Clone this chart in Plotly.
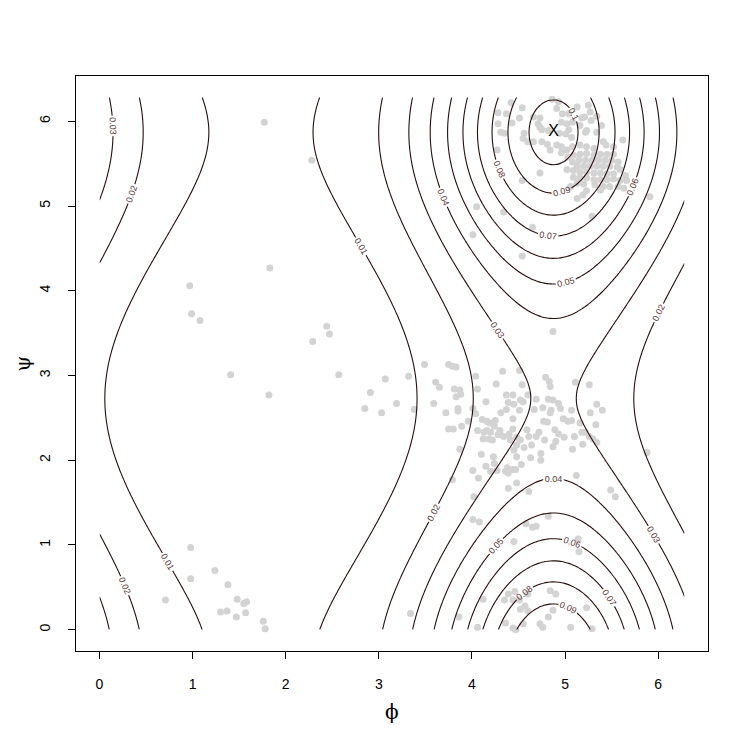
import numpy as np
import plotly.graph_objects as go

# fitted bivariate von Mises (independent product) parameters
mu_phi = 4.876
mu_psi = 5.87
kappa_phi = 1.27
kappa_psi = 0.605
levels = [0.01, 0.02, 0.03, 0.04, 0.05, 0.06, 0.07, 0.08, 0.09, 0.10]

# observed (phi, psi) angles, grouped by region
left_phi = [1.77, 2.28, 1.83, 0.97, 0.99, 1.08, 1.41, 1.82, 2.44, 2.47, 2.29, 2.57,
            0.98, 0.98, 0.71, 1.24, 1.38, 1.48, 1.58, 1.55, 1.30, 1.37, 1.47, 1.57,
            1.76, 1.78, 3.34]
left_psi = [5.99, 5.54, 4.27, 4.06, 3.73, 3.65, 3.01, 2.77, 3.58, 3.49, 3.40, 3.01,
            0.97, 0.60, 0.35, 0.70, 0.53, 0.36, 0.33, 0.31, 0.21, 0.22, 0.15, 0.20,
            0.10, 0.01, 0.19]

mid_phi = [3.07, 2.91, 2.85, 3.03, 3.19, 3.32, 3.38, 3.49, 3.75, 3.79, 3.83, 3.61,
           3.65, 3.59, 3.72, 3.81, 3.87, 3.83, 3.88, 3.85, 3.85, 3.75, 3.80, 3.89,
           3.96, 4.01, 4.04, 4.06, 4.04, 4.15, 4.26, 4.33, 4.11, 4.16, 4.19, 4.25,
           4.16, 4.24, 4.12, 4.18, 4.22, 4.30, 4.31, 4.37, 4.37, 4.44, 4.39, 4.45,
           4.44, 4.51, 4.55, 4.60, 4.51, 4.54, 4.30, 4.34, 4.40, 4.44, 4.48, 4.41,
           4.52, 4.59, 4.61, 4.69, 4.67, 4.76, 4.79, 4.83, 4.84, 4.82, 4.87, 4.93,
           4.85, 4.84, 4.95, 4.77, 4.81, 4.72, 4.69, 4.78, 4.89, 4.93, 4.99, 4.87,
           4.90, 4.98, 5.03, 5.07, 5.07, 5.10, 5.19, 5.08, 5.11, 5.26, 5.34, 5.40,
           5.27, 5.33, 5.22, 5.26, 5.34, 3.87, 4.10, 4.23, 4.45, 4.56, 4.64, 4.63,
           4.74, 4.74, 4.47, 4.44, 4.53, 4.36, 4.39, 4.01, 4.07, 4.15, 4.24, 4.27,
           4.02, 3.79, 4.39, 4.48, 4.61, 5.12, 5.49, 5.54, 4.52, 5.18, 5.16, 5.30,
           4.48, 4.48, 4.38, 4.06, 4.13, 4.20, 4.28, 4.20, 5.88, 4.87]
mid_psi = [2.96, 2.80, 2.61, 2.56, 2.67, 2.99, 2.60, 3.13, 3.13, 3.11, 3.10, 2.92,
           2.86, 2.67, 2.56, 2.84, 2.83, 2.75, 2.78, 2.61, 2.58, 2.37, 2.37, 2.40,
           2.46, 2.61, 2.99, 2.84, 2.55, 2.69, 2.90, 3.05, 2.48, 2.46, 2.44, 2.47,
           2.35, 2.40, 2.25, 2.25, 2.24, 2.35, 2.56, 2.60, 2.77, 2.77, 2.68, 2.66,
           2.49, 2.59, 2.69, 2.77, 3.06, 2.89, 2.31, 2.28, 2.31, 2.37, 2.27, 2.24,
           2.24, 2.36, 2.28, 2.72, 2.60, 2.62, 2.98, 2.93, 2.87, 2.72, 2.71, 2.67,
           2.59, 2.56, 2.61, 2.46, 2.45, 2.33, 2.28, 2.24, 2.36, 2.31, 2.27, 2.16,
           2.22, 2.49, 2.46, 2.59, 2.47, 2.28, 2.19, 2.13, 2.92, 2.89, 2.66, 2.59,
           2.56, 2.42, 2.33, 2.28, 2.21, 2.13, 2.07, 2.04, 2.12, 2.15, 2.18, 2.03,
           2.08, 2.00, 1.89, 1.89, 1.95, 1.87, 1.85, 1.88, 1.79, 1.93, 1.96, 1.88,
           1.57, 1.77, 1.67, 1.73, 1.63, 1.82, 1.65, 1.57, 2.71, 2.33, 2.44, 2.25,
           2.18, 2.04, 1.91, 2.35, 2.33, 2.33, 2.30, 1.87, 2.09, 3.52]

top_phi = [4.42, 4.54, 4.28, 4.37, 4.28, 4.43, 4.31, 4.35, 4.55, 4.56, 4.66, 4.73,
           4.71, 4.75, 4.82, 4.86, 4.93, 4.97, 5.04, 4.96, 5.02, 5.08, 5.13, 5.21,
           5.25, 5.28, 5.16, 5.23, 5.34, 5.39, 5.22, 5.04, 4.94, 5.01, 5.07, 4.60,
           4.66, 4.75, 4.81, 4.84, 4.91, 4.96, 4.96, 5.02, 5.08, 5.16, 5.23, 5.31,
           5.41, 5.44, 5.52, 5.62, 5.03, 5.09, 5.16, 5.23, 5.31, 5.38, 5.45, 5.52,
           5.08, 5.15, 5.22, 5.29, 5.36, 5.43, 5.50, 5.57, 5.13, 5.20, 5.27, 5.34,
           5.41, 5.48, 5.56, 5.02, 5.09, 5.16, 5.23, 5.31, 5.38, 5.45, 5.52, 5.59,
           5.65, 5.09, 5.16, 5.23, 5.31, 5.38, 5.45, 5.52, 5.59, 5.66, 5.13, 5.20,
           5.32, 5.41, 5.48, 5.57, 5.63, 5.06, 5.23, 5.38, 5.13, 5.19, 5.91, 4.73,
           4.54, 4.05, 4.34, 5.29, 4.01, 4.65, 4.54, 4.51, 4.73, 4.91, 5.27, 5.34,
           5.18, 4.27]
top_psi = [6.22, 6.16, 6.10, 6.09, 5.97, 5.98, 5.87, 5.86, 5.80, 5.86, 6.05, 6.04,
           5.97, 5.90, 5.89, 6.26, 6.23, 6.09, 6.09, 5.99, 5.97, 5.99, 6.17, 6.05,
           6.19, 6.01, 5.95, 5.89, 5.87, 5.95, 5.87, 5.90, 5.86, 5.85, 5.81, 5.76,
           5.76, 5.76, 5.73, 5.66, 5.72, 5.70, 5.63, 5.66, 5.70, 5.72, 5.70, 5.68,
           5.76, 5.72, 5.70, 5.78, 5.58, 5.60, 5.61, 5.62, 5.60, 5.61, 5.61, 5.61,
           5.52, 5.54, 5.54, 5.54, 5.54, 5.54, 5.54, 5.52, 5.47, 5.47, 5.47, 5.47,
           5.47, 5.47, 5.46, 5.43, 5.42, 5.40, 5.40, 5.39, 5.39, 5.38, 5.38, 5.43,
           5.36, 5.34, 5.33, 5.33, 5.31, 5.31, 5.31, 5.32, 5.30, 5.30, 5.27, 5.26,
           5.25, 5.23, 5.23, 5.23, 5.21, 5.23, 5.18, 5.19, 5.09, 5.13, 5.11, 5.39,
           5.30, 4.99, 4.93, 4.88, 4.66, 4.75, 4.41, 6.04, 5.93, 6.15, 6.11, 6.06,
           6.04, 5.66]

bottom_phi = [4.01, 4.08, 4.58, 4.65, 4.69, 4.82, 4.45, 5.14, 5.15, 3.86, 4.12, 4.35,
              4.39, 4.46, 4.44, 4.51, 4.60, 4.57, 4.52, 4.60, 4.84, 4.90, 4.87, 4.82,
              4.73, 4.76, 4.55, 4.36, 4.44, 4.47, 4.06, 5.23, 5.06, 5.29]
bottom_psi = [1.30, 1.27, 1.25, 1.21, 1.22, 1.34, 1.04, 1.07, 0.92, 0.15, 0.36, 0.35,
              0.42, 0.45, 0.35, 0.35, 0.42, 0.28, 0.24, 0.22, 0.46, 0.42, 0.23, 0.15,
              0.07, 0.03, 0.07, 0.08, 0.02, 0.00, 0.03, 0.26, 0.03, 0.01]

# density on a grid over [0, 2pi]^2
grid = np.linspace(0, 2 * np.pi, 201)
PHI, PSI = np.meshgrid(grid, grid)
dens = (np.exp(kappa_phi * np.cos(PHI - mu_phi)) / (2 * np.pi * np.i0(kappa_phi))
        * np.exp(kappa_psi * np.cos(PSI - mu_psi)) / (2 * np.pi * np.i0(kappa_psi)))

line_col = "#2a0c0c"
lo, hi = -0.04 * 2 * np.pi, 2 * np.pi * 1.04

fig = go.Figure()

fig.add_trace(go.Scatter(
    x=left_phi + mid_phi + top_phi + bottom_phi,
    y=left_psi + mid_psi + top_psi + bottom_psi,
    mode="markers",
    marker=dict(color="#d3d3d3", size=7, line=dict(width=0)),
    hoverinfo="skip",
))

# contours on an overlaid axis pair so they sit above the points
fig.add_trace(go.Contour(
    x=grid, y=grid, z=dens,
    xaxis="x2", yaxis="y2",
    autocontour=False,
    contours=dict(start=levels[0], end=levels[-1], size=0.01, coloring="lines",
                  showlabels=True,
                  labelfont=dict(size=9, color="#5b3535", family="Liberation Sans")),
    colorscale=[[0, line_col], [1, line_col]],
    line=dict(width=1.1),
    showscale=False,
    hoverinfo="skip",
))

fig.add_trace(go.Scatter(
    x=[mu_phi], y=[mu_psi], xaxis="x2", yaxis="y2",
    mode="text", text=["X"],
    textfont=dict(size=16, color="black", family="Liberation Sans"),
    hoverinfo="skip",
))

axis_common = dict(range=[lo, hi], showgrid=False, zeroline=False, automargin=False,
                   showline=True, mirror=True, linecolor="black", linewidth=1,
                   ticks="outside", ticklen=7, tickcolor="black",
                   tickvals=[0, 1, 2, 3, 4, 5, 6],
                   tickfont=dict(family="Liberation Sans", size=14, color="black"))

# page body adds an 8px margin, so the figure is 16px smaller than the window
fig.update_layout(
    width=731, height=731,
    margin=dict(l=68, r=31, t=68, b=88),
    paper_bgcolor="white", plot_bgcolor="white",
    showlegend=False,
    xaxis=dict(**axis_common, ticklabelstandoff=13),
    yaxis=dict(**axis_common, tickangle=-90, ticklabelstandoff=12),
    xaxis2=dict(range=[lo, hi], overlaying="x", visible=False),
    yaxis2=dict(range=[lo, hi], overlaying="y", visible=False),
    annotations=[
        dict(text="ϕ", xref="paper", yref="paper", x=0.5, y=-0.106,
             xanchor="center", yanchor="middle", showarrow=False,
             font=dict(family="DejaVu Serif", size=20, color="black")),
        dict(text="ψ", xref="paper", yref="paper", x=-0.084, y=0.5,
             xanchor="center", yanchor="middle", showarrow=False, textangle=-90,
             font=dict(family="DejaVu Serif", size=20, color="black")),
    ],
)

fig.write_html("out.html")
